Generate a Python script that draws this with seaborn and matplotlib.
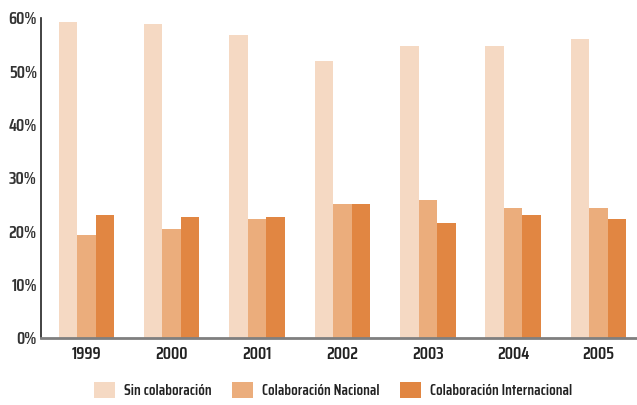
import pandas as pd
import matplotlib.pyplot as plt
import seaborn as sns
from matplotlib.ticker import FixedLocator, PercentFormatter

# datos (porcentajes)
anios = ['1999', '2000', '2001', '2002', '2003', '2004', '2005']
series = ['Sin colaboración', 'Colaboración Nacional', 'Colaboración Internacional']
sin_colab = [59.3, 58.8, 56.9, 52.0, 54.8, 54.8, 56.0]
colab_nacional = [19.3, 20.4, 22.3, 25.1, 25.9, 24.4, 24.4]
colab_internacional = [23.1, 22.7, 22.7, 25.1, 21.6, 23.1, 22.3]
colores = ['#F5D9C3', '#EBAD7C', '#E18642']

valores = [sin_colab, colab_nacional, colab_internacional]
filas = []
for serie, vals in zip(series, valores):
    for anio, v in zip(anios, vals):
        filas.append({'anio': anio, 'serie': serie, 'valor': v})
df = pd.DataFrame(filas)

sns.set_style('white')
plt.rcParams['font.family'] = ['Saira Condensed', 'Archivo Narrow', 'DejaVu Sans']
plt.rcParams['font.weight'] = 600

fig = plt.figure(figsize=(6.37, 4.05), dpi=100)
ax = fig.add_axes([41 / 637, 67 / 405, 596 / 637, 320 / 405])

sns.barplot(data=df, x='anio', y='valor', hue='serie', hue_order=series,
            palette=colores, width=0.65, saturation=1, linewidth=0, ax=ax, legend=True)

ax.set_ylim(0, 60)
ax.set_xlim(-0.53, 6.45)
ax.set_xlabel('')
ax.set_ylabel('')
ax.yaxis.set_major_formatter(PercentFormatter(decimals=0))
ax.set_yticks(range(0, 61, 10))
ax.tick_params(axis='y', length=0, pad=3, labelsize=12.5, colors='#333333')
ax.tick_params(axis='x', which='major', length=0, pad=6, labelsize=12.5, colors='#222222')
ax.xaxis.set_minor_locator(FixedLocator([k - 0.5 for k in range(8)]))
ax.tick_params(axis='x', which='minor', length=4, width=1, color='#444444', direction='out')

for s in ['top', 'right']:
    ax.spines[s].set_visible(False)
ax.spines['left'].set_color('#222222')
ax.spines['left'].set_linewidth(1.2)
ax.spines['bottom'].set_color('#7f7f7f')
ax.spines['bottom'].set_linewidth(2)
ax.spines['bottom'].set_zorder(5)

handles, labels = ax.get_legend_handles_labels()
ax.legend(handles, labels, loc='center', bbox_to_anchor=(0.49, -0.163),
          ncol=3, frameon=False, fontsize=11, handlelength=1.4, handleheight=1.25,
          columnspacing=1.3, handletextpad=0.6, labelcolor='#222222')

fig.savefig('out.png', dpi=100)
